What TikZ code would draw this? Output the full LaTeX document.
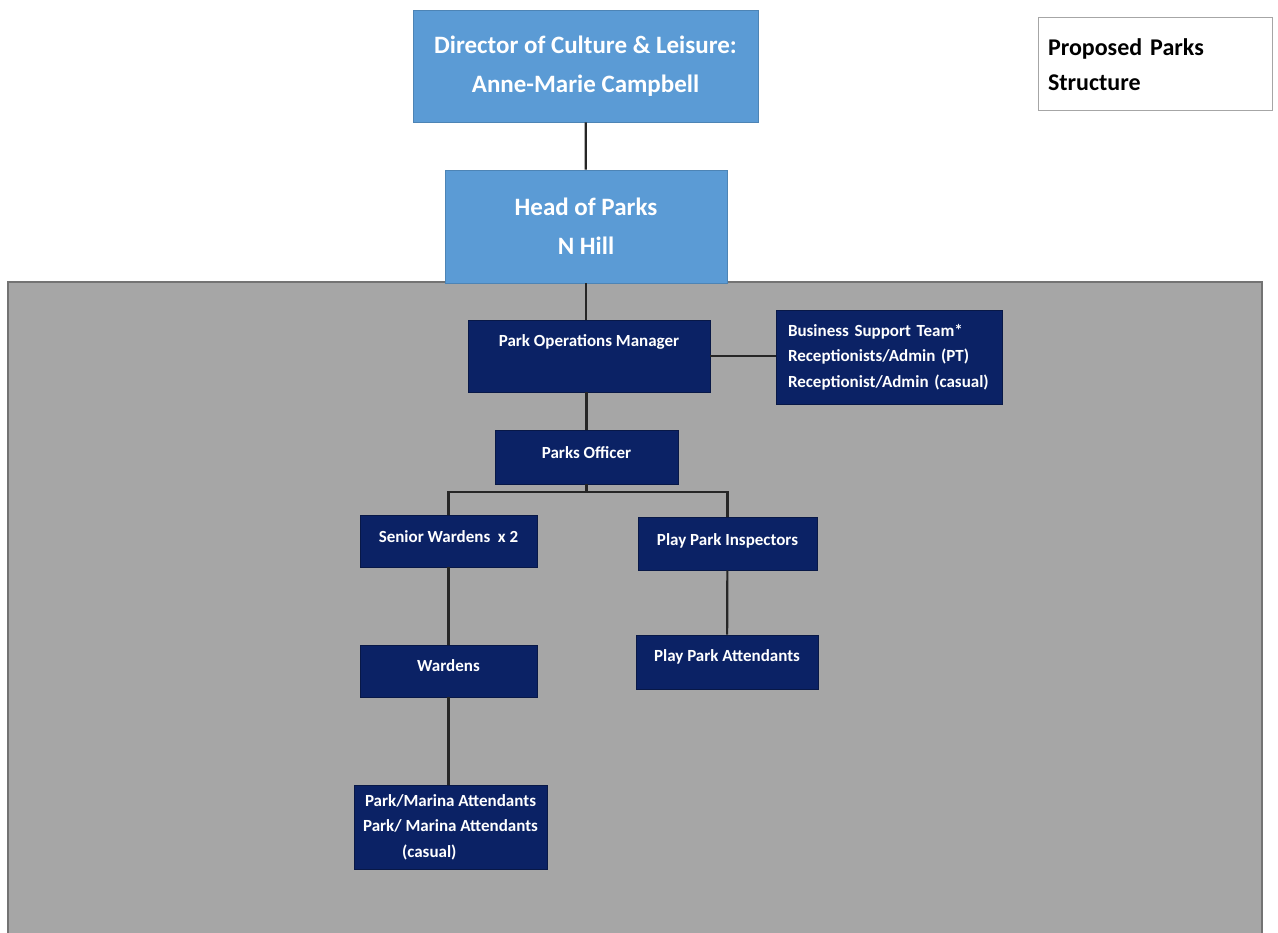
\documentclass[tikz,border=0pt]{standalone}
\usepackage{fontspec}
\setmainfont{Carlito}
\usetikzlibrary{positioning}
\definecolor{topblue}{HTML}{5B9BD5}
\definecolor{navy}{HTML}{0B2265}
\definecolor{panelgrey}{HTML}{A6A6A6}

\begin{document}
\begin{tikzpicture}[x=1pt, y=-1pt,
    every node/.style={align=center, inner sep=0pt},
    headbox/.style={fill=topblue, draw=topblue!85!black, line width=0.6pt, text=white,
      font=\fontsize{25}{39}\selectfont\bfseries},
    staffbox/.style={fill=navy, draw=navy!70!black, line width=0.6pt, text=white,
      font=\fontsize{17}{25.5}\selectfont\bfseries},
    link/.style={draw=black!85, line width=2.2pt}]
  \useasboundingbox (0,0) rectangle (1278,933);
  % grey panel behind the parks team
  \filldraw[fill=panelgrey, draw=black!55, line width=2pt] (8,282) rectangle (1262,950);

  \node[headbox, minimum width=345pt, minimum height=112pt] (director) at (585.5,66)
    {Director of Culture \& Leisure:\\Anne-Marie Campbell};
  \node[headbox, minimum width=282pt, minimum height=113pt] (head) at (586,226.5)
    {Head of Parks\\N Hill};
  \node[draw=black!35, fill=white, line width=1pt, minimum width=234pt, minimum height=93pt,
    text width=214pt, align=left, font=\fontsize{24}{35}\selectfont\bfseries] (title) at (1155,64.5)
    {Proposed Parks\\Structure};

  \node[staffbox, minimum width=242pt, minimum height=72pt, text depth=30pt] (pom) at (589,356)
    {Park Operations Manager};
  \node[staffbox, minimum width=226pt, minimum height=94pt, text width=202pt, align=left] (bst) at (889,357)
    {Business Support Team*\\Receptionists/Admin (PT)\\Receptionist/Admin (casual)};
  \node[staffbox, minimum width=183pt, minimum height=54pt, text depth=8pt] (officer) at (586.5,457)
    {Parks Officer};
  \node[staffbox, minimum width=177pt, minimum height=52pt, text depth=8pt] (senior) at (448.5,541)
    {Senior Wardens~~x 2};
  \node[staffbox, minimum width=179pt, minimum height=53pt, text depth=8pt] (inspectors) at (727.5,543.5)
    {Play Park Inspectors};
  \node[staffbox, minimum width=177pt, minimum height=52pt, text depth=10pt] (wardens) at (448.5,671)
    {Wardens};
  \node[staffbox, minimum width=182pt, minimum height=54pt, text depth=12pt] (attendants) at (727,662)
    {Play Park Attendants};
  \node[staffbox, minimum width=193pt, minimum height=84pt] (marina) at (450.5,827)
    {Park/Marina Attendants\\Park/ Marina Attendants\\\hspace*{-2.5em}(casual)};

  \draw[link] (director) -- (head);
  \draw[link] (head.south) -- (head.south |- pom.north);
  \draw[link] (pom.east) -- (pom.east -| bst.west);
  \draw[link] (officer.north) -- (officer.north |- pom.south);
  \draw[link] (officer.south) -- ++(0,8) -| (senior.north);
  \draw[link] (officer.south) -- ++(0,8) -| (inspectors.north);
  \draw[link] (senior) -- (wardens);
  \draw[link] (wardens.south) -- (wardens.south |- marina.north);
  \draw[link] (inspectors) -- (attendants);
\end{tikzpicture}
\end{document}
